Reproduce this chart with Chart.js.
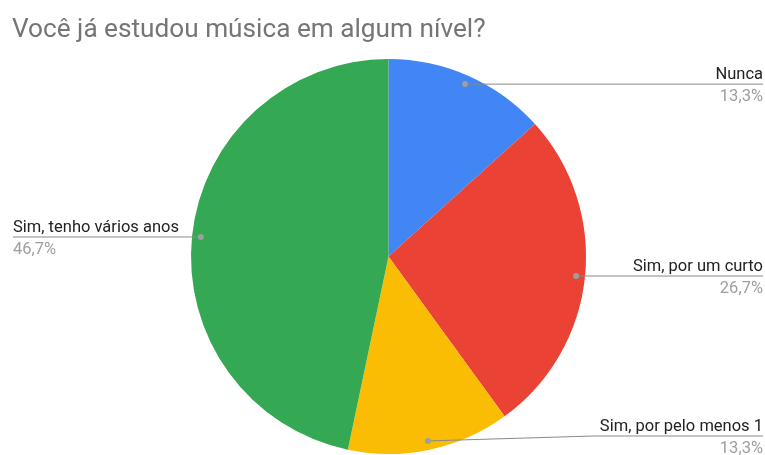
<!DOCTYPE html>
<html lang="pt-BR">
<head>
<meta charset="UTF-8">
<title>Você já estudou música em algum nível?</title>
<script src="https://cdn.jsdelivr.net/npm/chart.js"></script>
<style>
  body { margin: 0; background: #fff; }
  canvas { display: block; }
</style>
</head>
<body>
<canvas id="chart" width="765" height="455"></canvas>
<script>
const chartTitle = 'Você já estudou música em algum nível?';
const categories = ['Nunca', 'Sim, por um curto', 'Sim, por pelo menos 1', 'Sim, tenho vários anos'];
const shares = [13.3, 26.7, 13.3, 46.7];

const W = 765, H = 455;

// título e rótulos com linha de chamada, no estilo do Google Sheets
const leaderLabels = {
  id: 'leaderLabels',
  afterDraw(chart) {
    const ctx = chart.ctx;
    ctx.save();
    ctx.font = '26.2px Roboto';
    ctx.fillStyle = '#757575';
    ctx.textAlign = 'left';
    ctx.textBaseline = 'alphabetic';
    ctx.fillText(chartTitle, 12, 37);

    const total = shares.reduce((a, b) => a + b, 0);
    chart.getDatasetMeta(0).data.forEach((arc, i) => {
      const mid = (arc.startAngle + arc.endAngle) / 2;
      const r = arc.outerRadius * 0.955;
      const px = arc.x + Math.cos(mid) * r;
      const py = arc.y + Math.sin(mid) * r;
      const right = Math.cos(mid) > 0;
      const lineY = Math.min(py, H - 19);
      const endX = right ? W - 2 : 13;
      const elbowX = right ? arc.x + arc.outerRadius + 7 : arc.x - arc.outerRadius - 7;

      ctx.strokeStyle = '#8a8a8a';
      ctx.lineWidth = 1;
      ctx.beginPath();
      ctx.moveTo(px, py);
      if (lineY !== py) ctx.lineTo(elbowX, lineY);
      ctx.lineTo(endX, lineY);
      ctx.stroke();

      ctx.fillStyle = '#9e9e9e';
      ctx.beginPath();
      ctx.arc(px, py, 3, 0, Math.PI * 2);
      ctx.fill();

      ctx.textAlign = right ? 'right' : 'left';
      ctx.font = '16.5px Roboto';
      ctx.fillStyle = '#222';
      ctx.fillText(categories[i], endX, lineY - 5);
      ctx.fillStyle = '#9e9e9e';
      const pct = (shares[i] / total * 100).toFixed(1).replace('.', ',') + '%';
      ctx.fillText(pct, endX, lineY + 17);
    });
    ctx.restore();
  }
};

new Chart(document.getElementById('chart'), {
  type: 'pie',
  data: {
    labels: categories,
    datasets: [{
      data: shares,
      backgroundColor: ['#4285f4', '#ea4335', '#fbbc04', '#34a853'],
      borderWidth: 0
    }]
  },
  options: {
    responsive: false,
    animation: false,
    layout: { padding: { left: 191, right: 179, top: 59, bottom: 1 } },
    plugins: {
      legend: { display: false },
      tooltip: { enabled: false }
    }
  },
  plugins: [leaderLabels]
});
</script>
</body>
</html>
